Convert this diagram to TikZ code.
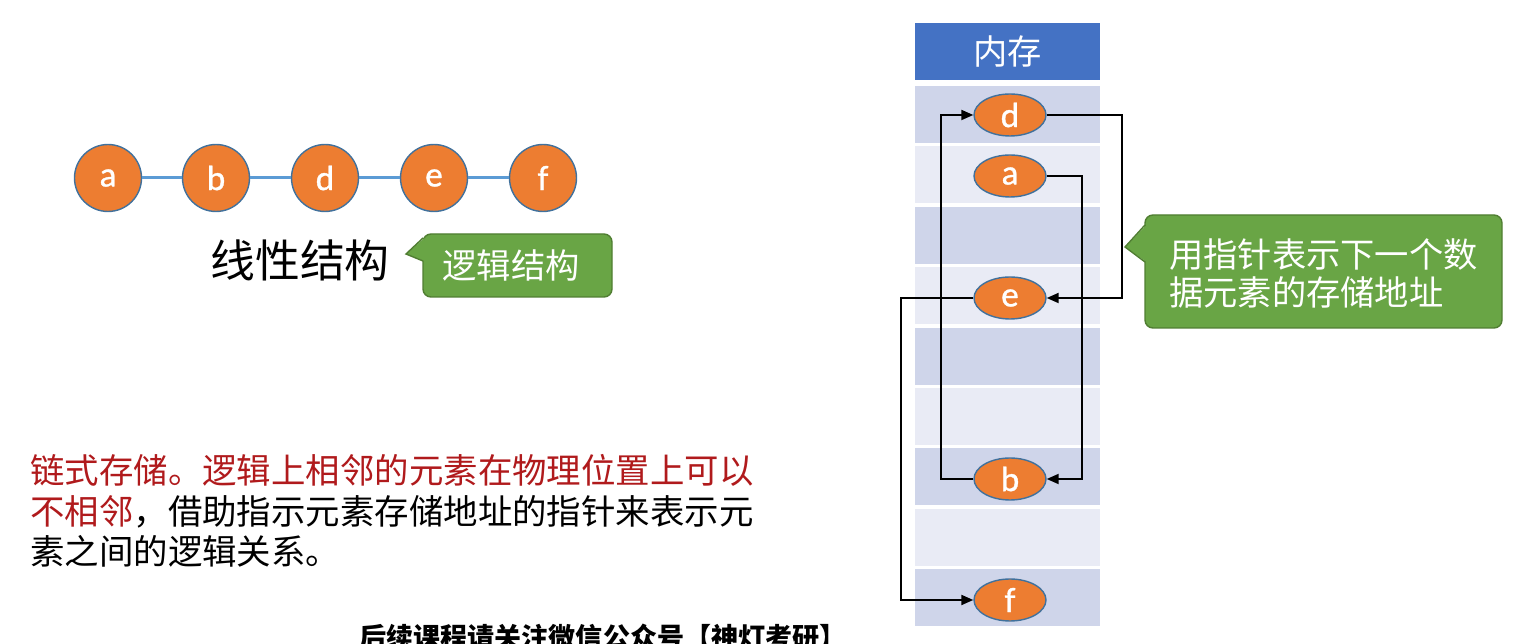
\documentclass[tikz,border=0pt]{standalone}
\usepackage{fontspec}
\setmainfont{Carlito}
\newfontfamily\letterfont{Carlito}[FakeBold=1]
\newfontfamily\cjk{Noto Sans CJK SC}
\usetikzlibrary{shapes.geometric,arrows.meta}
\definecolor{elemorange}{HTML}{ED7D31}
\definecolor{elemedge}{HTML}{41719C}
\definecolor{linkblue}{HTML}{5B9BD5}
\definecolor{headblue}{HTML}{4472C4}
\definecolor{rowdark}{HTML}{CFD5EA}
\definecolor{rowlight}{HTML}{E9EBF5}
\definecolor{callgreen}{HTML}{69A545}
\definecolor{calledge}{HTML}{507E32}
\definecolor{textred}{HTML}{B01A1C}
\tikzset{
  elem/.style={circle,draw=elemedge,fill=elemorange,line width=0.8pt,minimum size=1.34cm,inner sep=0pt,text=white,font={\letterfont\fontsize{20}{20}\selectfont}},
  cell/.style={ellipse,draw=elemedge,fill=elemorange,line width=0.8pt,minimum width=1.44cm,minimum height=0.84cm,inner sep=0pt,text=white,font={\letterfont\fontsize{20}{20}\selectfont}},
  link/.style={draw=linkblue,line width=1.7pt},
  ptr/.style={-{Triangle[length=0.24cm,width=0.2cm]},line width=1.1pt},
  callbox/.style={draw=calledge,fill=callgreen,line width=0.8pt,rounded corners=0.16cm},
  calltext/.style={text=white,font={\cjk\fontsize{19.5}{22}\selectfont}}
}
\begin{document}
\begin{tikzpicture}[x=0.02cm,y=-0.02cm]
\useasboundingbox (0,0) rectangle (1515,644);
% logical structure
\foreach \n/\x in {a/108,b/216,d/325,e/434,f/543}
  \node[elem] (l\n) at (\x,178) {\n};
\draw[link] (la) -- (lb);
\draw[link] (lb) -- (ld);
\draw[link] (ld) -- (le);
\draw[link] (le) -- (lf);
\node[font={\cjk\fontsize{25.5}{26}\selectfont}] (linear) at (300,260) {线性结构};
\draw[callbox] (423,234) rectangle (612,297);
\fill[callgreen] (424.5,238) -- (406,254) -- (424.5,261) -- cycle;
\draw[calledge,line width=0.8pt] (423,238) -- (406,254) -- (423,261);
\node[calltext] (logic) at (511,265) {逻辑结构};
% memory
\node[fill=headblue,minimum width=3.7cm,minimum height=1.14cm,text=white,font={\cjk\fontsize{19.5}{20}\selectfont}] (mem) at (1007.5,51.5) {内存};
\foreach \i in {0,...,8}{
  \ifodd\i \def\rowc{rowlight}\else \def\rowc{rowdark}\fi
  \fill[\rowc] (915,{86+60.4*\i}) rectangle (1100,{143+60.4*\i});
}
\node[cell] (md) at (1010,115) {d};
\node[cell] (ma) at (1010,176) {a};
\node[cell] (me) at (1010,298) {e};
\node[cell] (mb) at (1010,479) {b};
\node[cell] (mf) at (1010,600) {f};
\draw[ptr] (ma.east) -- ++(35,0) |- (mb.east);
\draw[ptr] (mb.west) -- ++(-32,0) |- (md.west);
\draw[ptr] (md.east) -- ++(75,0) |- (me.east);
\draw[ptr] (me.west) -- ++(-72,0) |- (mf.west);
\draw[callbox] (1145,215) rectangle (1502,328);
\fill[callgreen] (1146.5,225) -- (1125,247) -- (1146.5,262) -- cycle;
\draw[calledge,line width=0.8pt] (1145,225) -- (1125,247) -- (1145,262);
\node[calltext,anchor=west,align=left] (hint) at (1163,273.5) {用指针表示下一个数\\据元素的存储地址};
% text
\node[anchor=west,align=left,inner sep=0pt,font={\cjk\fontsize{19.6}{23.2}\selectfont}] (note) at (30,511) {\textcolor{textred}{链式存储。逻辑上相邻的元素在物理位置上可以}\\\textcolor{textred}{不相邻}，借助指示元素存储地址的指针来表示元\\素之间的逻辑关系。};
\node[font={\cjk\bfseries\fontsize{15.4}{16}\selectfont}] (ad) at (603,637) {后续课程请关注微信公众号【神灯考研】};
\end{tikzpicture}
\end{document}
